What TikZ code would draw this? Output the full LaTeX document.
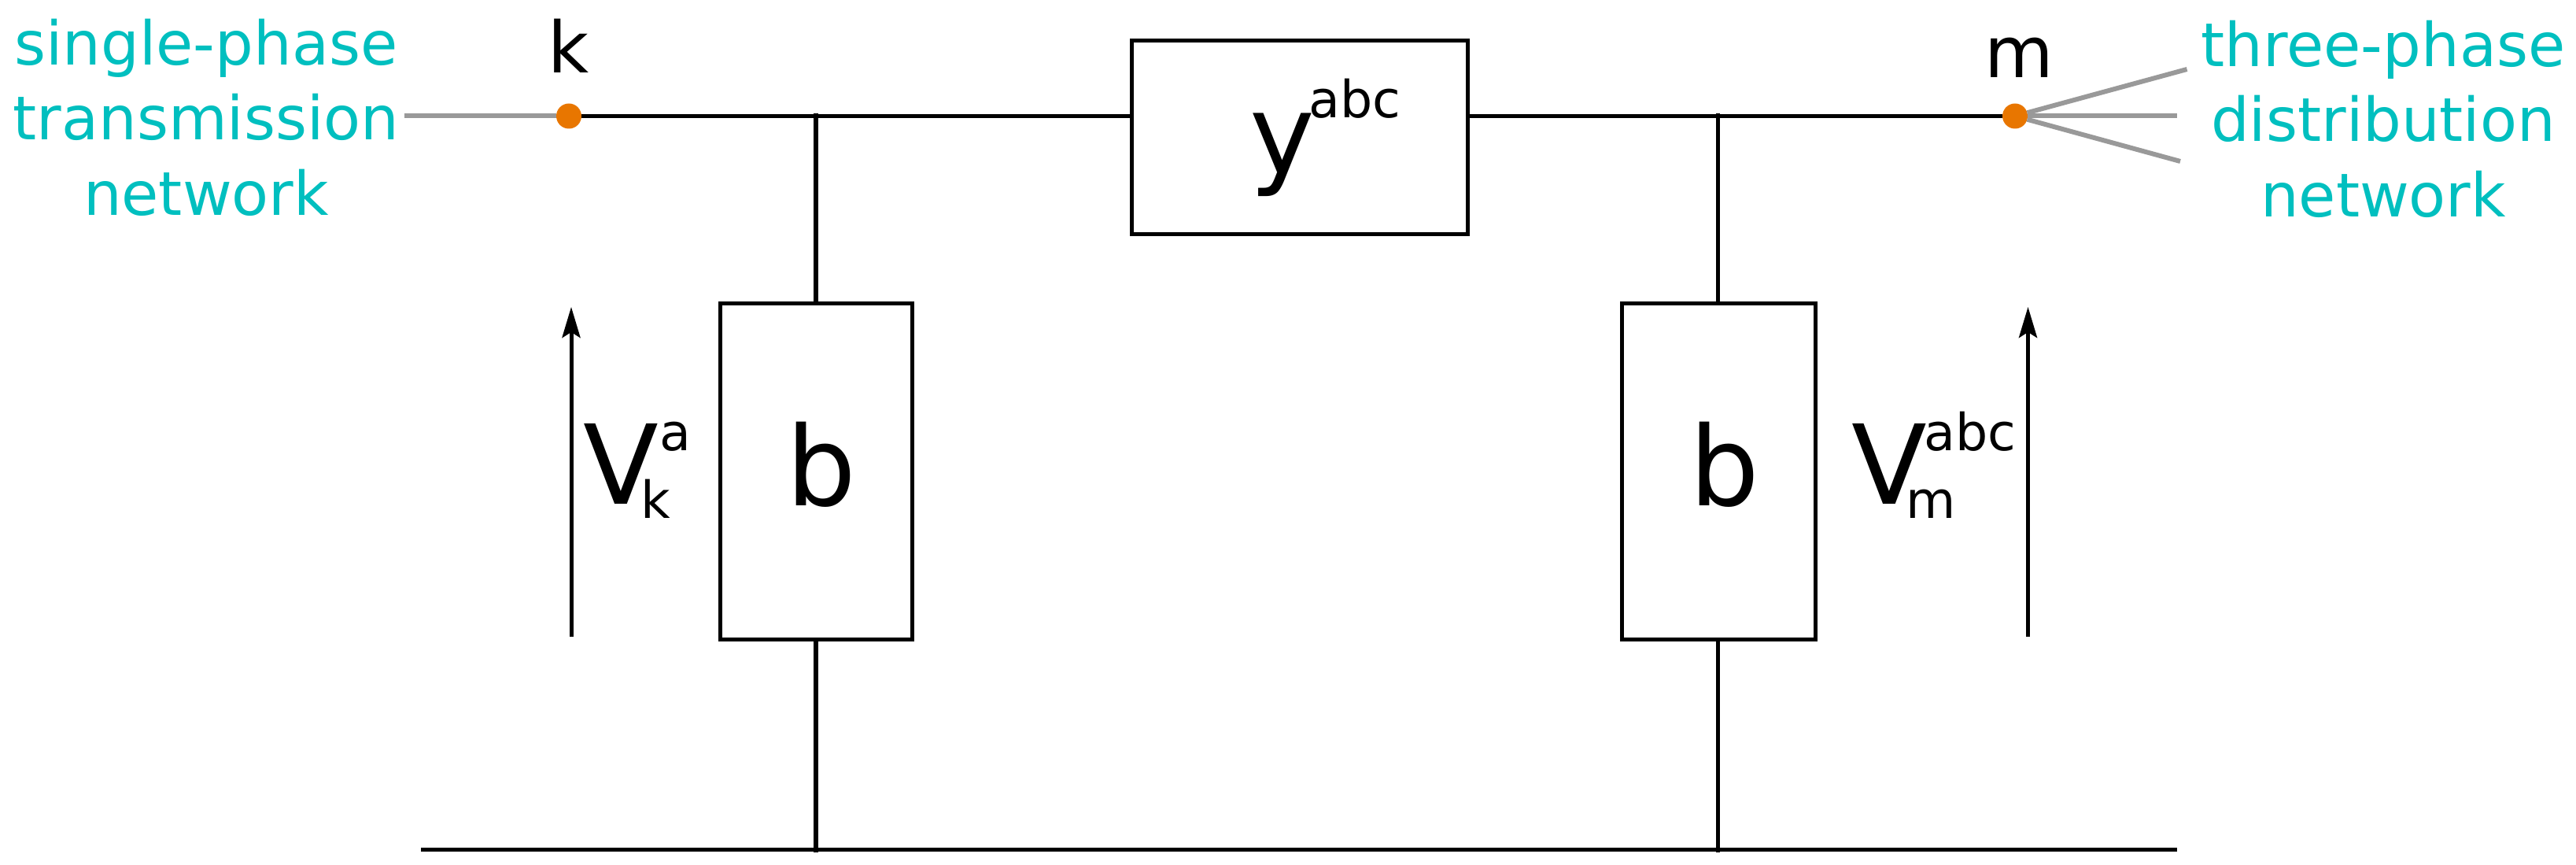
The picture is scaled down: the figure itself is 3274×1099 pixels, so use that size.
\documentclass[tikz,border=0pt]{standalone}
\usepackage{fontspec}
\setmainfont{DejaVu Sans}
\usetikzlibrary{arrows.meta}
\definecolor{netcyan}{HTML}{00BFBF}
\definecolor{busorange}{HTML}{E87600}
\definecolor{phasegray}{HTML}{999999}
\newcommand{\scriptsz}{\fontsize{16.25}{16.25}\selectfont}
% main symbol, superscript, subscript, sup kern, sub kern (from end of main)
\newcommand{\symsc}[5]{#1\rlap{\kern#5\raisebox{-4.5pt}{\scriptsz #3}}\kern#4\raisebox{17pt}{\scriptsz #2}}
\tikzset{
  wire/.style={line width=1.35pt,black},
  phase/.style={line width=1.5pt,phasegray},
  volt/.style={line width=1.25pt,black,-{Stealth[length=9.75pt,width=5.75pt,inset=1.75pt]}},
  block/.style={draw=black,line width=1.25pt,fill=white,inner sep=0pt,outer sep=0pt},
  busdot/.style={circle,fill=busorange,inner sep=0pt,outer sep=0pt,minimum size=8pt},
  busname/.style={anchor=base west,inner sep=0pt,outer sep=0pt,font=\fontsize{22.5}{22.5}\selectfont},
  bigsym/.style={anchor=base west,inner sep=0pt,outer sep=0pt,font=\fontsize{35}{35}\selectfont},
  netlabel/.style={align=center,inner sep=0pt,outer sep=0pt,text=netcyan,font=\fontsize{19.2}{23.875}\selectfont},
}
\begin{document}
\begin{tikzpicture}[x=0.25pt,y=-0.25pt]
\useasboundingbox (0,0) rectangle (3274,1099);
% nodes
\node[busdot] (k) at (723,147.5) {};
\node[busdot] (m) at (2561,147.5) {};
\node[block,minimum width=106.75pt,minimum height=61.6pt] (Y) at (1651.5,174.75) {};
\node[block,minimum width=61pt,minimum height=106.75pt] (B1) at (1037,599.5) {};
\node[block,minimum width=61.5pt,minimum height=106.75pt] (B2) at (2184,599.5) {};
\node[busname] (klabel) at (696,93) {k};
\node[busname] (mlabel) at (2522,98.7) {m};
\node[bigsym] (ylabel) at (1588,221) {y\kern-1.75pt\raisebox{17.75pt}{\scriptsz abc}};
\node[bigsym] (b1label) at (999,643) {b};
\node[bigsym] (b2label) at (2147,643) {b};
\node[bigsym] (vk) at (741,641) {\symsc{V}{a}{k}{0.5pt}{-5.5pt}};
\node[bigsym] (vm) at (2353,641) {\symsc{V}{abc}{m}{-0.75pt}{-6.5pt}};
\node[netlabel] (left) at (262,149) {single-phase\\transmission\\network};
\node[netlabel] (right) at (3029,151) {three-phase\\distribution\\network};
% free ends and junctions
\coordinate (grayend) at (514,147.5);
\coordinate (p1) at (2779.5,88);
\coordinate (p2) at (2767,147.5);
\coordinate (p3) at (2771,205);
\coordinate (j1) at (1037,144);
\coordinate (j2) at (2183.5,144);
\coordinate (g1) at (1037,1083);
\coordinate (g2) at (2183.5,1083);
\coordinate (busl) at (535,1079.5);
\coordinate (busr) at (2767,1079.5);
\coordinate (a1s) at (726,809);
\coordinate (a1e) at (726,390);
\coordinate (a2s) at (2577.5,809);
\coordinate (a2e) at (2577.5,390);
% connectors
\draw[phase] (grayend) -- (k);
\draw[phase] (m) -- (p1);
\draw[phase] (m) -- (p2);
\draw[phase] (m) -- (p3);
\draw[wire] (k) -- (Y.west |- k);
\draw[wire] (Y.east |- m) -- (m);
\draw[wire] (j1) -- (B1.north);
\draw[wire] (j2) -- (B2.north -| j2);
\draw[wire] (B1.south) -- (g1);
\draw[wire] (B2.south -| g2) -- (g2);
\draw[wire] (busl) -- (busr);
\draw[volt] (a1s) -- (a1e);
\draw[volt] (a2s) -- (a2e);
\end{tikzpicture}
\end{document}
